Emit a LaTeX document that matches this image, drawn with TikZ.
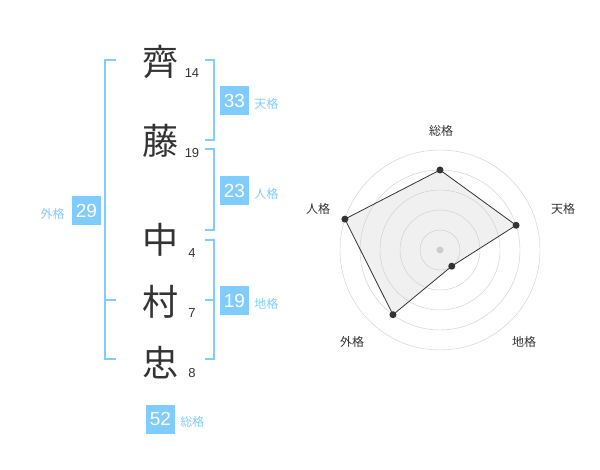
\documentclass[tikz,border=0pt]{standalone}
\usepackage{fontspec}
\setmainfont{Liberation Sans}
\newfontfamily\jfont{Noto Sans CJK JP}
\usetikzlibrary{positioning}
\definecolor{kaku}{RGB}{128,204,255}
\definecolor{ink}{RGB}{51,51,51}
\definecolor{ring}{RGB}{204,204,204}
\definecolor{area}{RGB}{240,240,240}
\tikzset{
  char/.style={text=ink, inner sep=0pt, font=\jfont\fontsize{36}{36}\selectfont},
  strokes/.style={text=ink, inner sep=0pt, font=\fontsize{13}{13}\selectfont},
  box/.style={fill=kaku, text=white, minimum size=29pt, inner sep=0pt, font=\fontsize{19}{19}\selectfont},
  kakuname/.style={text=kaku, inner sep=0pt, font=\jfont\fontsize{12}{12}\selectfont},
  axisname/.style={text=ink, inner sep=0pt, font=\jfont\fontsize{12}{12}\selectfont},
  dot/.style={circle, fill=ink, inner sep=0pt, minimum size=7pt},
  bracket/.style={draw=kaku, line width=1.8pt},
}

\begin{document}
\begin{tikzpicture}[x=1pt, y=-1pt]
    \useasboundingbox (0,0) rectangle (600,470);
    % name and strokes
    \node[char] (c1) at (160,62) {齊};
    \node[strokes] (s1) at (192,73) {14};
    \node[char] (c2) at (160,141) {藤};
    \node[strokes] (s2) at (192,153) {19};
    \node[char] (c3) at (160,240) {中};
    \node[strokes] (s3) at (192,253) {4};
    \node[char] (c4) at (160,302) {村};
    \node[strokes] (s4) at (192,313) {7};
    \node[char] (c5) at (160,363) {忠};
    \node[strokes] (s5) at (192,373) {8};
    % brackets
    \draw[bracket] (116,60) -- (105,60) -- (105,359) -- (116,359);
    \draw[bracket] (105,300) -- (116,300);
    \draw[bracket] (205,60) -- (214,60) -- (214,140) -- (205,140);
    \draw[bracket] (205,149) -- (214,149) -- (214,230) -- (205,230);
    \draw[bracket] (205,240) -- (214,240) -- (214,359) -- (205,359);
    \draw[bracket] (205,300) -- (214,300);
    % totals
    \node[box] (ten) at (234.5,100.5) {33};
    \node[kakuname, right=5pt of ten, yshift=-3pt] {天格};
    \node[box] (jin) at (234.5,190.5) {23};
    \node[kakuname, right=5pt of jin, yshift=-3pt] {人格};
    \node[box] (chi) at (234.5,300.5) {19};
    \node[kakuname, right=5pt of chi, yshift=-3pt] {地格};
    \node[box] (gai) at (86.5,210.5) {29};
    \node[kakuname, left=7pt of gai, yshift=-3pt] {外格};
    \node[box] (sou) at (160.5,419) {52};
    \node[kakuname, right=5pt of sou, yshift=-3pt] {総格};
    % radar
    \begin{scope}[shift={(440,250)}, yscale=-1]
        \coordinate (r1) at (90:80);
        \coordinate (r2) at (18:80);
        \coordinate (r3) at (-54:20);
        \coordinate (r4) at (-126:80);
        \coordinate (r5) at (162:100);
        \fill[area] (r1) -- (r2) -- (r3) -- (r4) -- (r5) -- cycle;
        \foreach \r in {20,40,...,100}
            \draw[ring] (0,0) circle (\r pt);
        \fill[ring] (0,0) circle (3.5pt);
        \draw[ink, line width=0.8pt] (r1) -- (r2) -- (r3) -- (r4) -- (r5) -- cycle;
        \foreach \p in {r1,r2,r3,r4,r5}
            \node[dot] at (\p) {};
    \end{scope}
    \node[axisname] (a1) at (441,131) {総格};
    \node[axisname] (a2) at (563,209) {天格};
    \node[axisname] (a3) at (524,342) {地格};
    \node[axisname] (a4) at (352,342) {外格};
    \node[axisname] (a5) at (318,209) {人格};
\end{tikzpicture}
\end{document}
